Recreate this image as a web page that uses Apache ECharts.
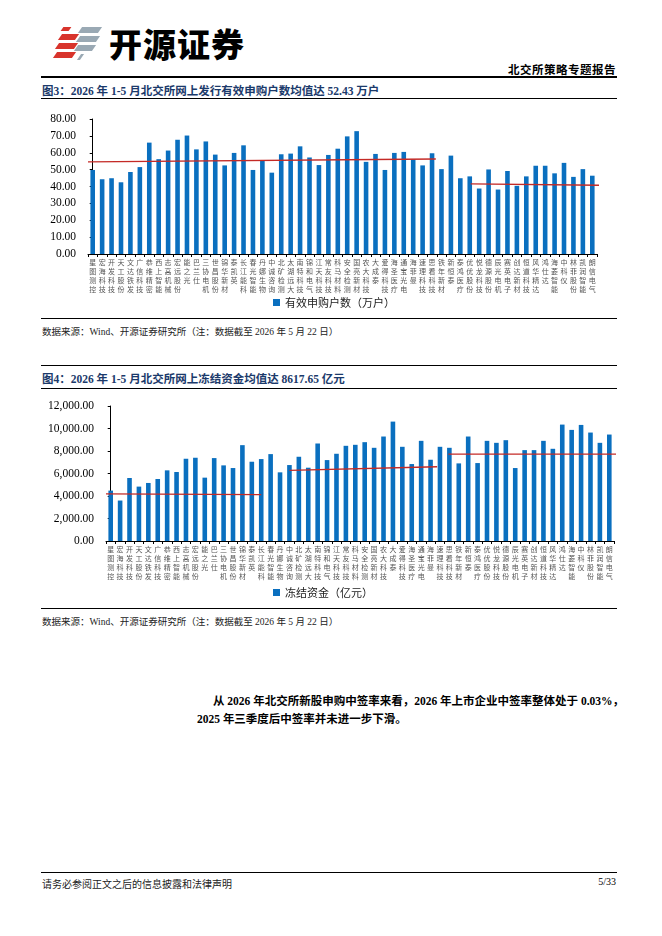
<!DOCTYPE html>
<html>
<head>
<meta charset="utf-8">
<script src="https://cdn.jsdelivr.net/npm/echarts@6/dist/echarts.min.js"></script>
<style>
  body { margin: 0; background: #fff; font-family: "Liberation Serif", "Noto Sans CJK SC", serif; color: #000; }
  .page { position: relative; width: 662px; height: 936px; overflow: hidden; }
  .abs { position: absolute; white-space: nowrap; }
  .rule { position: absolute; left: 41px; width: 576px; background: #000; }
  .title { position: absolute; left: 42px; font-size: 11.5px; font-weight: bold; color: #1b3a6b; }
  .src { position: absolute; left: 42px; font-size: 9.5px; color: #222; }
  .stripe { position: absolute; height: 6px; transform: skewX(-35deg); }
</style>
</head>
<body>
<div class="page">
  <!-- logo -->
  <div class="stripe" style="left:62px;top:27px;width:8px;height:4px;background:#d8342c;"></div>
  <div class="stripe" style="left:60px;top:34px;width:17px;background:#d8342c;"></div>
  <div class="stripe" style="left:57px;top:43px;width:19px;background:#d8342c;"></div>
  <div class="stripe" style="left:55px;top:52px;width:19px;background:#d8342c;"></div>
  <div class="stripe" style="left:80px;top:27px;width:20px;background:#9aa9b4;"></div>
  <div class="stripe" style="left:78px;top:36px;width:20px;background:#9aa9b4;"></div>
  <div class="stripe" style="left:76px;top:45px;width:18px;background:#9aa9b4;"></div>
  <div class="stripe" style="left:79px;top:54px;width:3px;height:6px;background:#9aa9b4;"></div>
  <div class="abs" style="left:109px;top:19px;font-family:'Noto Sans CJK SC';font-size:33px;font-weight:900;letter-spacing:1px;">开源证券</div>

  <div class="abs" style="right:46px;top:61px;font-size:11.5px;font-weight:bold;font-family:'Noto Sans CJK SC';letter-spacing:0.5px;">北交所策略专题报告</div>
  <div class="rule" style="top:76px;height:1.5px;"></div>

  <div class="title" style="top:82px;">图3：2026 年 1-5 月北交所网上发行有效申购户数均值达 52.43 万户</div>
  <div class="rule" style="top:98px;height:1px;"></div>
  <div id="chart1" style="position:absolute;left:0;top:105px;width:662px;height:210px;"></div>
  <div class="rule" style="top:318px;height:0.8px;"></div>
  <div class="src" style="top:324px;">数据来源：Wind、开源证券研究所（注：数据截至 2026 年 5 月 22 日）</div>

  <div class="rule" style="top:365px;height:1px;"></div>
  <div class="title" style="top:370px;">图4：2026 年 1-5 月北交所网上冻结资金均值达 8617.65 亿元</div>
  <div class="rule" style="top:388px;height:1px;"></div>
  <div id="chart2" style="position:absolute;left:0;top:395px;width:662px;height:210px;"></div>
  <div class="rule" style="top:608px;height:0.8px;"></div>
  <div class="src" style="top:614px;">数据来源：Wind、开源证券研究所（注：数据截至 2026 年 5 月 22 日）</div>

  <div class="abs" style="left:213px;top:692px;font-size:11.5px;font-weight:bold;">从 2026 年北交所新股申购中签率来看，2026 年上市企业中签率整体处于 0.03%，</div>
  <div class="abs" style="left:197px;top:710px;font-size:11.5px;font-weight:bold;">2025 年三季度后中签率并未进一步下滑。</div>

  <div class="rule" style="top:872px;height:1px;"></div>
  <div class="src" style="top:876px;font-size:10px;">请务必参阅正文之后的信息披露和法律声明</div>
  <div class="abs" style="right:46px;top:876px;font-size:10px;">5/33</div>
</div>

<script>
// 上市企业名称（两图共用）
var companies = [
  '星图测控','宏海科技','开发科技','天工股份','文达铁发','广信科技','恭维精密','西上智能','志高机械',
  '宏远股份','能之光','巴兰仕','三协电机','世昌股份','锦华新材','泰凯英','长江能科','春光智能',
  '丹娜生物','中诚咨询','北矿检测','太湖远大','南特科技','锦和电气','江天科技','常友科技','科马材料',
  '安全检测','国亮新材','农大科技','大成泰','爱得科技','海圣医疗','通宝光电','海菲曼','速理科技',
  '思看科技','铁年新材','新恒泰','泰鸿医疗','优优股份','悦龙科技','德源股份','辰光电机','赛英电子',
  '创达新材','恒道科技','风华精达','鸿仕达','海菱智能','中科仪','林菲股份','凯润智能','朗信电气'
];

// 图3：有效申购户数（万户）
var validHouseholds = [
  49.8, 44.3, 44.9, 42.5, 48.6, 51.5, 66.0, 56.2, 61.3,
  67.7, 70.2, 62.0, 66.7, 58.9, 52.5, 59.9, 64.4, 49.8,
  55.2, 48.2, 59.1, 59.5, 63.8, 57.2, 52.7, 58.7, 62.4,
  69.7, 72.8, 54.6, 59.3, 49.8, 59.9, 60.5, 56.0, 52.5,
  59.7, 50.3, 58.3, 44.9, 46.0, 38.8, 50.1, 38.2, 49.2,
  40.4, 46.0, 52.3, 52.3, 47.8, 54.0, 45.7, 50.3, 46.4
];
// 图3 分段均值线 [序号位置, 数值]
var households1Avg = [[-0.5, 54.6], [36.4, 56.3]];
var households2Avg = [[40.1, 41.5], [54.2, 40.7]];

// 图4：冻结资金（亿元）
var frozenFunds = [
  4481, 3597, 5601, 4835, 5159, 5513, 6280, 6132, 7311,
  7400, 5631, 7370, 6722, 6486, 8520, 7046, 7282, 7724,
  6103, 6751, 7488, 6515, 8667, 7193, 7754, 8461, 8550,
  8785, 8284, 9287, 10613, 8373, 6840, 8903, 7223, 8373,
  8284, 6899, 9287, 6928, 8903, 8726, 8962, 6486, 8078,
  8078, 8903, 8196, 10348, 9876, 10318, 9640, 8726, 9463
];
var funds1Avg = [[-0.5, 4190], [16.0, 4130]];
var funds2Avg = [[19.0, 6280], [34.7, 6600]];
var funds3Avg = [[35.9, 7724], [54.1, 7724]];

var blue = '#0a6fbf';
var red = '#c42a26';
var serif = '"Liberation Serif", "Noto Sans CJK SC", serif';

function verticalName(name) {
  return name.split('').join('\n');
}

function avgLine(data) {
  return {
    type: 'line',
    xAxisIndex: 1,
    data: data,
    symbol: 'none',
    clip: false,
    silent: true,
    lineStyle: { color: red, width: 1.3 },
    z: 5
  };
}

function drawChart(id, gridPos, yMax, yInterval, yFormat, barName, values, lines) {
  var myChart = echarts.init(document.getElementById(id));
  var series = [{
    name: barName,
    type: 'bar',
    data: values,
    barWidth: 4.6,
    itemStyle: { color: blue }
  }];
  lines.forEach(function (l) { series.push(avgLine(l)); });

  var option = {
    animation: false,
    grid: gridPos,
    legend: {
      data: [barName],
      top: 187,
      left: 268,
      icon: 'rect',
      itemWidth: 7,
      itemHeight: 7,
      itemGap: 4,
      textStyle: { fontSize: 11, color: '#222', fontFamily: 'Noto Sans CJK SC' }
    },
    xAxis: [{
      type: 'category',
      data: companies,
      axisLine: { lineStyle: { color: '#000', width: 1 } },
      axisTick: { show: true, length: 3, lineStyle: { color: '#000' } },
      axisLabel: {
        interval: 0,
        margin: 4,
        fontSize: 7,
        lineHeight: 9,
        color: '#555',
        fontFamily: 'Noto Sans CJK SC',
        formatter: verticalName
      }
    }, {
      type: 'value',
      min: -0.5,
      max: 53.5,
      show: false
    }],
    yAxis: {
      type: 'value',
      min: 0,
      max: yMax,
      interval: yInterval,
      axisLine: { show: true, lineStyle: { color: '#000', width: 1 } },
      axisTick: { show: true, length: 3, lineStyle: { color: '#000' } },
      splitLine: { show: false },
      axisLabel: {
        fontSize: 11.5,
        color: '#000',
        fontFamily: serif,
        margin: 12,
        formatter: yFormat
      }
    },
    series: series
  };
  myChart.setOption(option, true);
}

drawChart('chart1', { left: 88, right: 65, top: 14, bottom: 61 }, 80, 10,
  function (v) { return v.toFixed(2); },
  '有效申购户数（万户）', validHouseholds, [households1Avg, households2Avg]);

drawChart('chart2', { left: 106, right: 48, top: 11, bottom: 64 }, 12000, 2000,
  function (v) { return v.toLocaleString('en-US', { minimumFractionDigits: 2, maximumFractionDigits: 2 }); },
  '冻结资金（亿元）', frozenFunds, [funds1Avg, funds2Avg, funds3Avg]);
</script>
</body>
</html>
